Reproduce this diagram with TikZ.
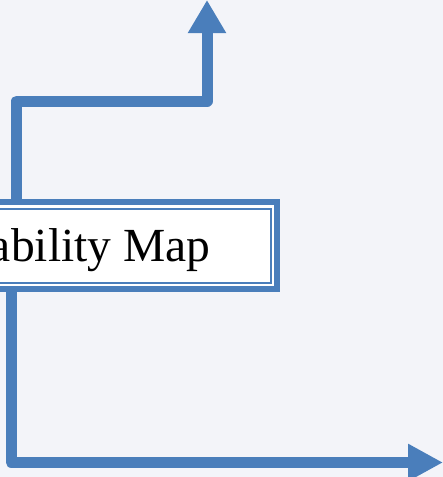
\documentclass[tikz,border=0pt]{standalone}
\usepackage{fontspec}
\setmainfont{Liberation Serif}
\usetikzlibrary{arrows.meta}
\definecolor{myblue}{HTML}{4A7EBB}
\definecolor{mybg}{HTML}{F3F4F9}
\tikzset{
  conn/.style={draw=myblue, line width=11pt, line join=round},
  outerbox/.style={draw=myblue, line width=6pt, fill=white, inner sep=0pt, outer sep=0pt},
  lbl/.style={font=\fontsize{47.5pt}{52pt}\selectfont, inner sep=0pt, text=black},
}
\begin{document}
\begin{tikzpicture}[x=1pt,y=-1pt]
\useasboundingbox[fill=mybg] (0,0) rectangle (443,477);
% box
\node[outerbox, minimum width=397pt, minimum height=87pt] (box) at (78.5,245.5) {};
\draw[myblue, line width=2pt] ([shift={(6.5pt,-6.5pt)}]box.north west) rectangle ([shift={(-6.5pt,6.5pt)}]box.south east);
\node[lbl, anchor=base east] (label) at (210.5,261) {ability Map};
% upper connector
\coordinate (u1) at (16.5,199);
\coordinate (u2) at (16.5,101);
\coordinate (u3) at (207,101);
\coordinate (u4) at (207,0);
\draw[conn, -{Triangle[width=36pt,length=33pt]}] (u1) -- (u2) -- (u3) -- (u4);
% lower connector
\coordinate (l1) at (11.3,292);
\coordinate (l2) at (11.3,462.5);
\coordinate (l3) at (443,462.5);
\draw[conn, -{Triangle[width=35pt,length=35pt]}] (l1) -- (l2) -- (l3);
\end{tikzpicture}
\end{document}
